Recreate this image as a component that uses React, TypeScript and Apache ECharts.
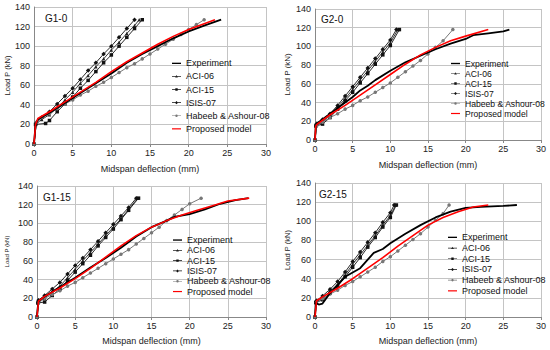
import React, { useEffect, useRef } from "react";
import * as echarts from "echarts";

type P = [number, number];

const panelNames = ["G1-0", "G2-0", "G1-15", "G2-15"];
const seriesNames = ["Experiment", "ACI-06", "ACI-15", "ISIS-07", "Habeeb & Ashour-08", "Proposed model"];
const xTicksMax = 30;
const yTicksMax = 140;

// G1-0
const g10Experiment: P[] = [[0,0],[0.1,10],[0.2,20],[0.5,25],[2,32],[4,42],[6,52],[8,62],[10,72],[12,83],[14,92],[16,100],[18,108],[20,115],[22,121],[24.2,127]];
const g10Aci06: P[] = [[0,0],[0.3,21],[1,25],[2,30],[3,37],[4,45],[5,53],[6,62],[7,70],[8,79],[9,87],[10,96],[11,104],[12,113],[13,121],[13.6,127]];
const g10Aci15: P[] = [[0,0],[0.2,20],[1.5,21],[2,24],[3,33],[4,41],[5,48],[6,57],[7,65],[8,74],[9,83],[10,91],[11,100],[12,109],[13,118],[14,127]];
const g10Isis: P[] = [[0,0],[0.3,22],[1,27],[2,33],[3,41],[4,49],[5,57],[6,66],[7,75],[8,83],[9,92],[10,100],[11,109],[12,118],[13,127]];
const g10Habeeb: P[] = [[0,0],[0.3,22],[1,27],[2,31],[3,36],[4,41],[5,45],[6,50],[7,54],[8,59],[9,63],[10,68],[11,73],[12,78],[13,82],[14,87],[15,92],[16,97],[17,102],[18,107],[19,112],[20,117],[21,122],[22,127]];
const g10Proposed: P[] = [[0,0],[0.2,20],[0.5,26],[2,33],[4,43],[6,53],[8,63],[10,74],[12,84],[14,93],[16,102],[18,110],[20,117],[22,123],[23.4,127]];

// G2-0
const g20Experiment: P[] = [[0,0],[0.1,15],[0.3,18],[2,28],[4,40],[5,46],[6,53],[7,58],[8,64],[10,74],[12,83],[14,90],[16,97],[18,103],[20,108],[21,112],[23,114],[25,116],[25.8,118]];
const g20Aci06: P[] = [[0,0],[0.2,16],[1,19],[2,27],[3,35],[4,44],[5,54],[6,64],[7,74],[8,84],[9,94],[10,104],[11,118]];
const g20Aci15: P[] = [[0,0],[0.1,15],[1,17],[2,24],[3,33],[4,42],[5,51],[6,61],[7,71],[8,81],[9,91],[10,101],[11.2,118]];
const g20Isis: P[] = [[0,0],[0.2,17],[1,22],[2,28],[3,37],[4,47],[5,57],[6,67],[7,77],[8,87],[9,97],[10,107],[10.8,118]];
const g20Habeeb: P[] = [[0,0],[0.2,15],[1,19],[2,24],[3,28],[4,33],[5,37],[6,42],[7,46],[8,51],[9,56],[10,61],[11,67],[12,73],[13,79],[14,85],[15,92],[16,99],[17,106],[18.3,118]];
const g20Proposed: P[] = [[0,0],[0.1,15],[0.3,17],[2,27],[4,37],[6,48],[8,59],[10,70],[12,81],[14,91],[16,99],[18,106],[20,111],[23,118]];

// G1-15
const g115Experiment: P[] = [[0,0],[0.1,10],[0.2,17],[1,22],[3,32],[5,42],[7,53],[9,63],[11,74],[13,86],[15,96],[17,103],[18,107],[20,110],[22,115],[24,121],[26,125],[27.7,127]];
const g115Aci06: P[] = [[0,0],[0.2,17],[1,20],[2,27],[3,33],[4,42],[5,51],[6,60],[7,69],[8,78],[9,87],[10,96],[11,105],[12,115],[13.2,127]];
const g115Aci15: P[] = [[0,0],[0.1,15],[1,16],[2,23],[3,30],[4,39],[5,48],[6,57],[7,66],[8,76],[9,85],[10,94],[11,104],[12,114],[13.3,127]];
const g115Isis: P[] = [[0,0],[0.2,18],[1,23],[2,30],[3,37],[4,46],[5,55],[6,63],[7,72],[8,81],[9,90],[10,99],[11,108],[12,117],[13,127]];
const g115Habeeb: P[] = [[0,0],[0.2,15],[1,20],[2,24],[3,28],[4,33],[5,37],[6,42],[7,47],[8,52],[9,57],[10,62],[11,67],[12,72],[13,78],[14,84],[15,90],[16,96],[17,103],[18,109],[19,115],[20,121],[21.5,127]];
const g115Proposed: P[] = [[0,0],[0.2,17],[1,22],[3,31],[5,41],[7,52],[9,64],[11,76],[13,87],[15,96],[17,103],[19,109],[21,114],[23,119],[25,124],[27.8,127]];

// G2-15
const g215Experiment: P[] = [[0,0],[0.1,15],[0.5,13],[1,14],[2,25],[4,42],[6,51],[7,60],[7.8,67],[9,71],[10,77],[12,87],[14,96],[16,104],[18,110],[20,114],[22,115],[25,116],[26.8,117]];
const g215Aci06: P[] = [[0,0],[0.2,16],[1,20],[2,27],[3,34],[4,44],[5,55],[6,65],[7,75],[8,85],[9,96],[10,106],[10.7,117]];
const g215Aci15: P[] = [[0,0],[0.1,15],[1,18],[2,25],[3,32],[4,42],[5,52],[6,62],[7,73],[8,83],[9,94],[10,104],[10.8,117]];
const g215Isis: P[] = [[0,0],[0.2,17],[1,22],[2,29],[3,37],[4,47],[5,58],[6,68],[7,78],[8,88],[9,99],[10,109],[10.5,117]];
const g215Habeeb: P[] = [[0,0],[0.2,15],[1,19],[2,24],[3,28],[4,33],[5,37],[6,42],[7,47],[8,52],[9,58],[10,63],[11,69],[12,75],[13,81],[14,87],[15,94],[16,101],[17,108],[17.8,117]];
const g215Proposed: P[] = [[0,0],[0.2,17],[1,21],[3,30],[5,40],[7,51],[9,62],[11,74],[13,85],[15,96],[17,104],[19,110],[21,115],[23,117]];

const panelData: P[][][] = [
  [g10Experiment, g10Aci06, g10Aci15, g10Isis, g10Habeeb, g10Proposed],
  [g20Experiment, g20Aci06, g20Aci15, g20Isis, g20Habeeb, g20Proposed],
  [g115Experiment, g115Aci06, g115Aci15, g115Isis, g115Habeeb, g115Proposed],
  [g215Experiment, g215Aci06, g215Aci15, g215Isis, g215Habeeb, g215Proposed],
];

const grids = [
  { left: 34, top: 7, width: 232, height: 137 },
  { left: 315, top: 9, width: 226, height: 131 },
  { left: 37, top: 186, width: 229, height: 131 },
  { left: 315, top: 183, width: 226, height: 134 },
];
const panelCfg = [
  { titleLeft: 45, titleTop: 13, yNameSize: 7.5, yNameGap: 23, xNameGap: 20.5 },
  { titleLeft: 321, titleTop: 14, yNameSize: 8, yNameGap: 24, xNameGap: 20.5 },
  { titleLeft: 43, titleTop: 192, yNameSize: 6, yNameGap: 27, xNameGap: 19 },
  { titleLeft: 319, titleTop: 189, yNameSize: 7.5, yNameGap: 24, xNameGap: 19.5 },
];
const legendCfg = [
  { left: 172, top: 56.8, fontSize: 9, rowH: 13.1 },
  { left: 451, top: 58.5, fontSize: 8.6, rowH: 10 },
  { left: 173, top: 234.9, fontSize: 9, rowH: 10.3 },
  { left: 448, top: 232, fontSize: 9, rowH: 10.7 },
];

const FONT = "Liberation Sans, Arial, sans-serif";

// legend icons drawn in a 12 x 8 box (first moves fix the box)
const BOX = "M0,0 M12,8 ";
const thin = "M0,3.55 L12,3.55 L12,4.45 L0,4.45 Z ";
const legendIcons = [
  "path://" + BOX + "M0,3.1 L12,3.1 L12,4.9 L0,4.9 Z",
  "path://" + BOX + thin + "M6,2.2 L7.8,5.4 L4.2,5.4 Z",
  "path://" + BOX + thin + "M4.4,2.4 L7.6,2.4 L7.6,5.6 L4.4,5.6 Z",
  "path://" + BOX + thin + "M6,1.9 L8.1,4 L6,6.1 L3.9,4 Z",
  "path://" + BOX + thin + "M6,2.3 L7.2,2.8 L7.7,4 L7.2,5.2 L6,5.7 L4.8,5.2 L4.3,4 L4.8,2.8 Z",
  "path://" + BOX + "M0,3.2 L12,3.2 L12,4.8 L0,4.8 Z",
];

const styleFor = (k: number) => {
  switch (k) {
    case 0:
      return { color: "#000", width: 1.8, symbol: "none", size: 0 };
    case 1:
      return { color: "#222", width: 0.9, symbol: "triangle", size: 3.5 };
    case 2:
      return { color: "#111", width: 0.9, symbol: "rect", size: 3.5 };
    case 3:
      return { color: "#111", width: 0.9, symbol: "diamond", size: 4.5 };
    case 4:
      return { color: "#777", width: 1, symbol: "circle", size: 3.5 };
    default:
      return { color: "#ff0000", width: 1.6, symbol: "none", size: 0 };
  }
};

export default function App() {
  const ref = useRef<HTMLDivElement>(null);
  useEffect(() => {
    if (!ref.current) return;
    const chart = echarts.init(ref.current, undefined, { renderer: "svg" });
    const series: any[] = [];
    panelData.forEach((lines, p) => {
      lines.forEach((data, k) => {
        const s = styleFor(k);
        series.push({
          type: "line",
          name: seriesNames[k],
          xAxisIndex: p,
          yAxisIndex: p,
          data,
          showSymbol: s.symbol !== "none",
          symbol: s.symbol,
          symbolSize: s.size,
          z: k === 5 ? 5 : k === 0 ? 4 : 3,
          lineStyle: { color: s.color, width: s.width },
          itemStyle: { color: s.color, borderWidth: 0 },
        });
      });
    });
    const axisText = { color: "#222", fontSize: 9, fontFamily: FONT };
    chart.setOption({
      animation: false,
      grid: grids.map((g) => ({ ...g, containLabel: false })),
      title: panelNames.map((t, i) => ({
        text: t,
        left: panelCfg[i].titleLeft,
        top: panelCfg[i].titleTop,
        padding: 0,
        textStyle: { fontSize: 10, fontWeight: "normal", color: "#111", fontFamily: FONT },
      })),
      legend: legendCfg.map((lc) => ({
        left: lc.left,
        top: lc.top,
        orient: "vertical",
        itemGap: 0,
        itemWidth: 9,
        itemHeight: 6,
        padding: 0,
        data: seriesNames.map((n, k) => ({ name: n, icon: legendIcons[k] })),
        selectedMode: false,
        textStyle: {
          fontSize: lc.fontSize,
          lineHeight: lc.rowH,
          height: lc.rowH,
          color: "#111",
          fontFamily: FONT,
        },
      })),
      xAxis: grids.map((_, i) => ({
        type: "value",
        gridIndex: i,
        min: 0,
        max: xTicksMax,
        interval: 5,
        name: "Midspan deflection (mm)",
        nameLocation: "middle",
        nameGap: panelCfg[i].xNameGap,
        nameTextStyle: { ...axisText },
        axisLine: { show: true, lineStyle: { color: "#888" } },
        axisTick: { show: true, length: 3, lineStyle: { color: "#888" } },
        axisLabel: { ...axisText, margin: 4 },
        splitLine: { show: true, lineStyle: { color: "#c4c4c4", width: 1 } },
      })),
      yAxis: grids.map((_, i) => ({
        type: "value",
        gridIndex: i,
        min: 0,
        max: yTicksMax,
        interval: 20,
        name: "Load P (kN)",
        nameLocation: "middle",
        nameGap: panelCfg[i].yNameGap,
        nameTextStyle: { ...axisText, fontSize: panelCfg[i].yNameSize },
        axisLine: { show: true, lineStyle: { color: "#888" } },
        axisTick: { show: false },
        axisLabel: { ...axisText, margin: 4 },
        splitLine: { show: true, lineStyle: { color: "#c4c4c4", width: 1 } },
      })),
      series,
    });
    return () => chart.dispose();
  }, []);
  return (
    <div
      ref={ref}
      style={{ position: "fixed", left: 0, top: 0, width: 550, height: 350, background: "#fff" }}
    />
  );
}
